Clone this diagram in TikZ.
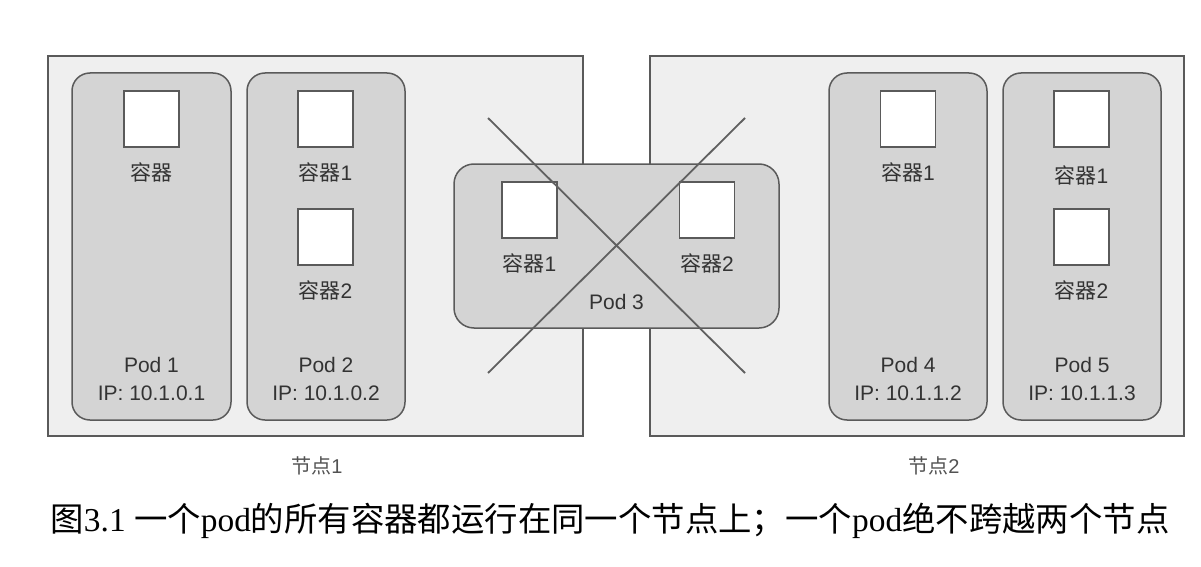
\documentclass[tikz,border=0pt]{standalone}
\usepackage{fontspec}
\setmainfont{Liberation Sans}
\newfontfamily\cjk{Noto Sans CJK SC}
\newfontfamily\capserif{Liberation Serif}
\definecolor{nodefill}{HTML}{EFEFEF}
\definecolor{podfill}{HTML}{D4D4D4}
\definecolor{edge}{HTML}{5A5A5A}
\definecolor{txt}{HTML}{333333}
\definecolor{crossc}{HTML}{606060}
\tikzset{
  nodebox/.style={draw=edge, fill=nodefill, line width=1.5pt, inner sep=0pt, minimum width=#1, minimum height=380pt},
  podbox/.style={draw=edge, fill=podfill, line width=1.5pt, rounded corners=18pt, inner sep=0pt},
  ctr/.style={draw=edge, fill=white, line width=1.5pt, inner sep=0pt, minimum width=55pt, minimum height=56pt},
  lbl/.style={text=txt, font=\fontsize{21}{24}\selectfont, inner sep=0pt},
  nlbl/.style={text=txt!85, font=\fontsize{20}{23}\selectfont, inner sep=0pt},
  crossline/.style={draw=crossc, line width=1.8pt}
}
\begin{document}
\begin{tikzpicture}[x=1pt,y=-1pt]
\useasboundingbox (0,0) rectangle (1201,567);
% nodes
\node[nodebox=535pt] (node1) at (315.5,246) {};
\node[nodebox=534pt] (node2) at (917,246) {};
% pods
\node[podbox, minimum width=159pt, minimum height=347pt] (pod1) at (151.5,246.5) {};
\node[podbox, minimum width=158pt, minimum height=347pt] (pod2) at (326,246.5) {};
\node[podbox, minimum width=158pt, minimum height=347pt] (pod4) at (908,246.5) {};
\node[podbox, minimum width=158pt, minimum height=347pt] (pod5) at (1082,246.5) {};
\node[podbox, rounded corners=20pt, minimum width=325pt, minimum height=164pt] (pod3) at (616.5,246) {};
% containers
\node[ctr] (c1) at (151.5,119) {};
\node[ctr] (c2a) at (325.5,119) {};
\node[ctr] (c2b) at (325.5,237) {};
\node[ctr] (c3a) at (529.5,210) {};
\node[ctr] (c3b) at (707,210) {};
\node[ctr] (c4) at (908,119) {};
\node[ctr] (c5a) at (1081.5,119) {};
\node[ctr] (c5b) at (1081.5,237) {};
% container labels
\node[lbl] (t1) at (151.5,172) {\cjk 容器};
\node[lbl] (t2a) at (325.5,172) {{\cjk 容器}1};
\node[lbl] (t2b) at (325.5,290) {{\cjk 容器}2};
\node[lbl] (t3a) at (529.5,263) {{\cjk 容器}1};
\node[lbl] (t3b) at (707,263) {{\cjk 容器}2};
\node[lbl] (t4) at (908,172) {{\cjk 容器}1};
\node[lbl] (t5a) at (1081.5,175) {{\cjk 容器}1};
\node[lbl] (t5b) at (1081.5,290) {{\cjk 容器}2};
% pod labels
\node[lbl] (p1) at (151.5,365) {Pod 1};
\node[lbl] (ip1) at (151.5,393) {IP: 10.1.0.1};
\node[lbl] (p2) at (326,365) {Pod 2};
\node[lbl] (ip2) at (326,393) {IP: 10.1.0.2};
\node[lbl] (p3) at (616.5,302) {Pod 3};
\node[lbl] (p4) at (908,365) {Pod 4};
\node[lbl] (ip4) at (908,393) {IP: 10.1.1.2};
\node[lbl] (p5) at (1082,365) {Pod 5};
\node[lbl] (ip5) at (1082,393) {IP: 10.1.1.3};
% cross
\coordinate (xa) at (488,118);
\coordinate (xb) at (745,373);
\coordinate (xc) at (745,118);
\coordinate (xd) at (488,373);
\draw[crossline] (xa) -- (xb);
\draw[crossline] (xc) -- (xd);
% node labels
\node[nlbl] (n1) at (317,466) {{\cjk 节点}1};
\node[nlbl] (n2) at (934,466) {{\cjk 节点}2};
% caption
\node[inner sep=0pt, text=black, font=\fontsize{33.4}{38}\selectfont\cjk] (cap) at (610,521)
  {图{\capserif 3.1 }一个{\capserif pod}的所有容器都运行在同一个节点上；一个{\capserif pod}绝不跨越两个节点};
\end{tikzpicture}
\end{document}
